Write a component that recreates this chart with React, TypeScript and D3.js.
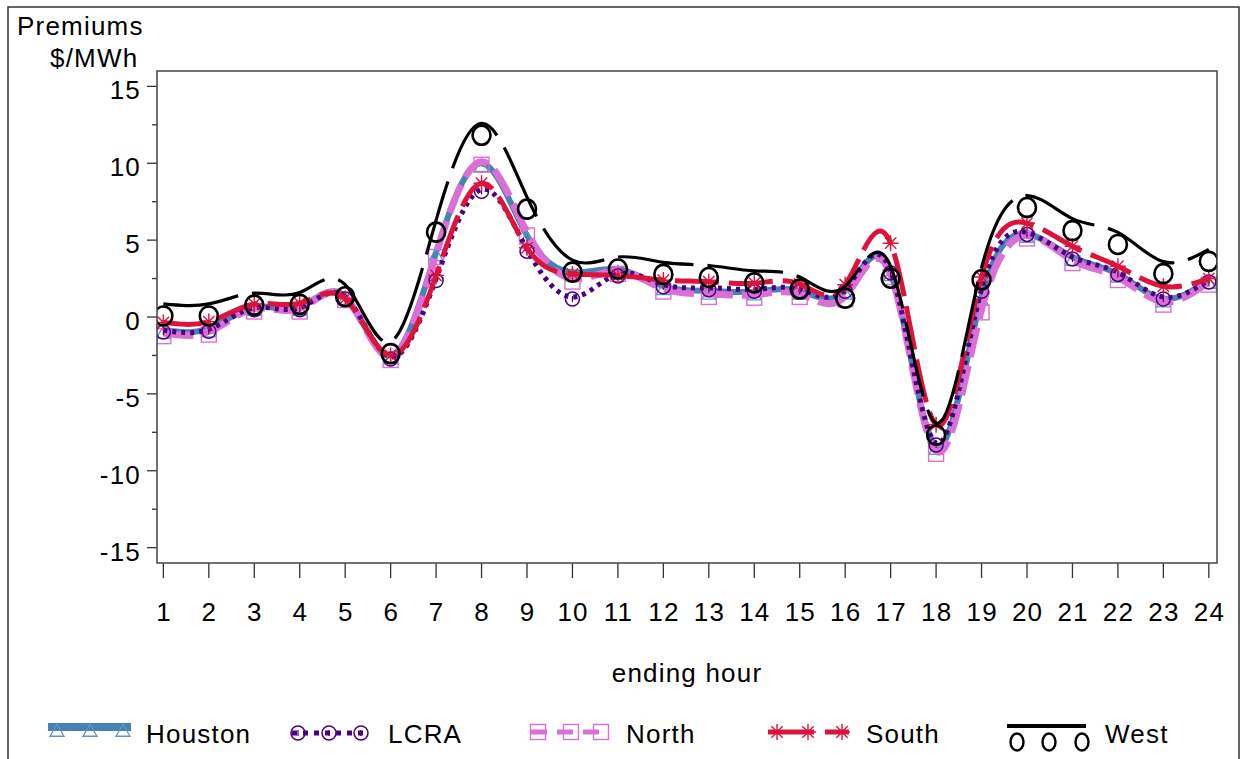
import React from 'react';
import * as d3 from 'd3';

// Hourly price premiums by zone ($/MWh)
const hours = [1, 2, 3, 4, 5, 6, 7, 8, 9, 10, 11, 12, 13, 14, 15, 16, 17, 18, 19, 20, 21, 22, 23, 24];
const houston = [-0.85, -0.75, 0.65, 0.65, 1.35, -2.5, 4.2, 10.0, 5.3, 2.9, 3.1, 2.0, 1.7, 1.65, 1.7, 1.7, 2.9, -8.4, 1.3, 5.4, 3.9, 2.8, 1.2, 2.4];
const lcra = [-0.85, -0.8, 0.6, 0.6, 1.3, -2.6, 2.5, 8.3, 4.4, 1.3, 2.8, 2.1, 1.9, 1.8, 1.8, 1.8, 3.0, -8.2, 1.8, 5.5, 3.9, 2.9, 1.3, 2.4];
const north = [-1.05, -0.95, 0.55, 0.55, 1.3, -2.6, 4.1, 10.1, 5.5, 2.5, 3.0, 1.85, 1.5, 1.45, 1.5, 1.35, 2.8, -8.7, 0.5, 5.3, 3.7, 2.6, 1.0, 2.3];
const south = [-0.35, -0.3, 0.85, 0.9, 1.2, -2.5, 2.7, 8.7, 4.5, 2.8, 2.7, 2.4, 2.3, 2.2, 2.15, 2.1, 4.8, -7.0, 2.6, 6.1, 4.6, 3.3, 2.0, 2.5];
const west = [0.85, 0.85, 1.55, 1.6, 2.1, -1.6, 6.3, 12.6, 7.8, 3.7, 3.9, 3.55, 3.35, 3.0, 2.6, 2.0, 3.3, -6.9, 3.2, 7.9, 6.4, 5.5, 3.6, 4.4];

const yMajorTicks = [-15, -10, -5, 0, 5, 10, 15];
const yMinorTicks = [-12.5, -7.5, -2.5, 2.5, 7.5, 12.5];

type Marker = 'triangle' | 'circle' | 'square' | 'star' | 'bigO';

interface Series {
  name: string;
  values: number[];
  color: string;
  width: number;
  dash: string;
  marker: Marker;
  markerColor: string;
  markerDy: number;
}

const seriesList: Series[] = [
  { name: 'Houston', values: houston, color: '#4682B4', width: 6, dash: '', marker: 'triangle', markerColor: '#5b96c6', markerDy: 3 },
  { name: 'North', values: north, color: '#DA70D6', width: 7, dash: '30 9', marker: 'square', markerColor: '#DA70D6', markerDy: 3 },
  { name: 'LCRA', values: lcra, color: '#4B0082', width: 5, dash: '4 5', marker: 'circle', markerColor: '#4B0082', markerDy: 2 },
  { name: 'South', values: south, color: '#DC143C', width: 5, dash: '44 10', marker: 'star', markerColor: '#DC143C', markerDy: 0 },
  { name: 'West', values: west, color: '#000000', width: 3.2, dash: '76 14', marker: 'bigO', markerColor: '#000000', markerDy: 12 },
];

const legendOrder = ['Houston', 'LCRA', 'North', 'South', 'West'];

const FONT = '"Liberation Sans", Arial, Helvetica, sans-serif';

const W = 1244;
const H = 759;
const plot = { left: 157, right: 1217, top: 71, bottom: 563 };

const x = d3.scaleLinear().domain([0.86, 24.18]).range([plot.left, plot.right]);
const y = d3.scaleLinear().domain([-16, 16]).range([plot.bottom, plot.top]);

function MarkerShape({ kind, cx, cy, color }: { kind: Marker; cx: number; cy: number; color: string }) {
  if (kind === 'triangle') {
    const s = 7;
    return (
      <path
        d={`M${cx},${cy - s} L${cx + s},${cy + s * 0.75} L${cx - s},${cy + s * 0.75} Z`}
        fill="none"
        stroke={color}
        strokeWidth={1.3}
      />
    );
  }
  if (kind === 'circle') {
    return (
      <g>
        <circle cx={cx} cy={cy} r={7} fill="none" stroke={color} strokeWidth={1.5} />
        <line x1={cx} y1={cy - 3} x2={cx} y2={cy + 3} stroke={color} strokeWidth={1.2} />
      </g>
    );
  }
  if (kind === 'square') {
    const s = 7.5;
    return <rect x={cx - s} y={cy - s} width={2 * s} height={2 * s} fill="none" stroke={color} strokeWidth={1.4} />;
  }
  if (kind === 'star') {
    const r = 8;
    const d = [0, 45, 90, 135]
      .map((a) => {
        const rad = (a * Math.PI) / 180;
        const dx = Math.cos(rad) * r;
        const dy = Math.sin(rad) * r;
        return `M${cx - dx},${cy - dy} L${cx + dx},${cy + dy}`;
      })
      .join(' ');
    return <path d={d} stroke={color} strokeWidth={1.4} fill="none" />;
  }
  return <ellipse cx={cx} cy={cy} rx={9} ry={9.5} fill="none" stroke={color} strokeWidth={2.6} />;
}

export default function App() {
  const lineGen = d3
    .line<number>()
    .x((_, i) => x(hours[i]))
    .y((v) => y(v))
    .curve(d3.curveNatural);

  const textStyle = { fontFamily: FONT, fontSize: 26, letterSpacing: 1.2, fill: '#000' } as React.CSSProperties;

  const legendItems: Record<string, React.ReactNode> = {
    Houston: (
      <g key="Houston">
        <line x1={48} x2={131} y1={727} y2={727} stroke="#4682B4" strokeWidth={8} />
        {[57, 90, 123].map((cx) => (
          <MarkerShape key={cx} kind="triangle" cx={cx} cy={731} color="#5b96c6" />
        ))}
        <text x={146} y={743} style={textStyle}>Houston</text>
      </g>
    ),
    LCRA: (
      <g key="LCRA">
        <line x1={292} x2={366} y1={733} y2={733} stroke="#4B0082" strokeWidth={5} strokeDasharray="5 6" />
        {[298, 329, 361].map((cx) => (
          <MarkerShape key={cx} kind="circle" cx={cx} cy={733} color="#4B0082" />
        ))}
        <text x={388} y={743} style={textStyle}>LCRA</text>
      </g>
    ),
    North: (
      <g key="North">
        <line x1={531} x2={605} y1={732} y2={732} stroke="#DA70D6" strokeWidth={5} strokeDasharray="16 10" />
        {[538, 571, 601].map((cx) => (
          <MarkerShape key={cx} kind="square" cx={cx} cy={732} color="#DA70D6" />
        ))}
        <text x={626} y={743} style={textStyle}>North</text>
      </g>
    ),
    South: (
      <g key="South">
        <line x1={768} x2={849} y1={732} y2={732} stroke="#DC143C" strokeWidth={5} strokeDasharray="46 11" />
        {[777, 808, 842].map((cx) => (
          <MarkerShape key={cx} kind="star" cx={cx} cy={732} color="#DC143C" />
        ))}
        <text x={866} y={743} style={textStyle}>South</text>
      </g>
    ),
    West: (
      <g key="West">
        <line x1={1007} x2={1086} y1={726} y2={726} stroke="#000" strokeWidth={4} />
        {[1017, 1049, 1082].map((cx) => (
          <ellipse key={cx} cx={cx} cy={742} rx={6.5} ry={8.5} fill="none" stroke="#000" strokeWidth={2.4} />
        ))}
        <text x={1105} y={743} style={textStyle}>West</text>
      </g>
    ),
  };

  return (
    <svg
      width={W}
      height={H}
      viewBox={`0 0 ${W} ${H}`}
      style={{ position: 'absolute', left: 0, top: 0, background: '#fff' }}
    >
      <rect x={0} y={0} width={W} height={H} fill="#fff" />
      {/* outer frame */}
      <rect x={8} y={7} width={1231} height={800} fill="none" stroke="#333" strokeWidth={1.5} />

      {/* axis title */}
      <text x={17} y={35} style={textStyle}>Premiums</text>
      <text x={50} y={67} style={textStyle}>$/MWh</text>

      {/* y axis ticks and labels */}
      {yMajorTicks.map((t) => (
        <g key={`y${t}`}>
          <line x1={plot.left - 10} x2={plot.left} y1={y(t)} y2={y(t)} stroke="#333" strokeWidth={1.3} />
          <text x={141} y={y(t) + 13} textAnchor="end" style={textStyle}>
            {t}
          </text>
        </g>
      ))}
      {yMinorTicks.map((t) => (
        <line key={`ym${t}`} x1={plot.left - 5} x2={plot.left} y1={y(t)} y2={y(t)} stroke="#333" strokeWidth={1.3} />
      ))}

      {/* x axis ticks and labels */}
      {hours.map((h) => (
        <g key={`x${h}`}>
          <line x1={x(h)} x2={x(h)} y1={plot.bottom} y2={plot.bottom + 15} stroke="#333" strokeWidth={1.3} />
          <text x={x(h) + 0.6} y={621} textAnchor="middle" style={textStyle}>
            {h}
          </text>
        </g>
      ))}
      <text x={687} y={682} textAnchor="middle" style={textStyle}>ending hour</text>

      {/* series */}
      <defs>
        <clipPath id="plotClip">
          <rect x={plot.left} y={plot.top} width={plot.right - plot.left} height={plot.bottom - plot.top} />
        </clipPath>
      </defs>
      <g clipPath="url(#plotClip)">
        {seriesList.map((s) => (
          <g key={s.name}>
            <path
              d={lineGen(s.values) || ''}
              fill="none"
              stroke={s.color}
              strokeWidth={s.width}
              strokeDasharray={s.dash || undefined}
              strokeLinecap="butt"
              strokeLinejoin="round"
            />
            {s.values.map((v, i) => (
              <MarkerShape key={i} kind={s.marker} cx={x(hours[i])} cy={y(v) + s.markerDy} color={s.markerColor} />
            ))}
          </g>
        ))}
      </g>

      {/* plot frame */}
      <rect
        x={plot.left}
        y={plot.top}
        width={plot.right - plot.left}
        height={plot.bottom - plot.top}
        fill="none"
        stroke="#444"
        strokeWidth={1.5}
      />

      {/* legend */}
      {legendOrder.map((n) => legendItems[n])}
    </svg>
  );
}
